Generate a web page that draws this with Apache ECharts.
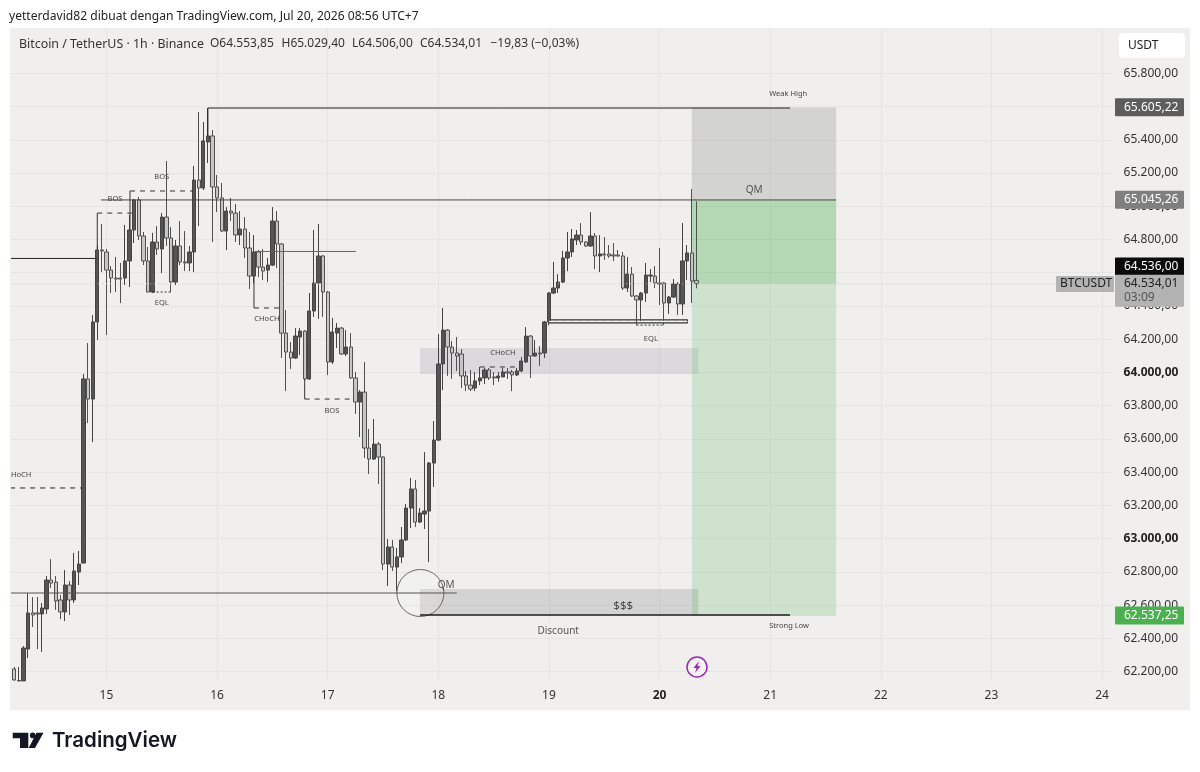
<!DOCTYPE html>
<html>
<head>
<meta charset="utf-8">
<title>BTCUSDT 1h</title>
<script src="https://cdn.jsdelivr.net/npm/echarts@6/dist/echarts.min.js"></script>
<style>
  html, body { margin: 0; background: #fff; }
  #panel { position: absolute; left: 10px; top: 28px; width: 1180px; height: 682px; background: #f0efee; }
  #chart { position: absolute; left: 0; top: 0; width: 1200px; height: 772px; }
</style>
</head>
<body>
<div id="panel"></div>
<div id="chart"></div>
<script>
// hourly bars: [open, close, low, high]
const candleRows = [
  [62216,62150,62144,62228],[62144,62146,62144,62228],[62144,62342,62144,62354],[62336,62553,62282,62673],
  [62553,62541,62468,62649],[62553,62547,62336,62649],[62547,62583,62318,62613],[62577,62751,62547,62775],
  [62751,62733,62703,62877],[62739,62625,62571,62775],[62631,62559,62516,62661],[62559,62721,62504,62811],
  [62721,62631,62541,62745],[62631,62805,62613,62914],[62799,62847,62721,62926],[62853,63961,62853,63991],
  [63961,63840,63696,64177],[63840,64304,63581,64346],[64304,64737,64195,64767],[64737,64731,64604,64893],
  [64725,64616,64225,64743],[64616,64568,64478,64640],[64568,64562,64484,64695],[64568,64562,64418,64659],
  [64568,64671,64526,64887],[64671,64857,64514,64947],[64857,65038,64779,65044],[65038,64821,64797,65056],
  [64821,64671,64646,64845],[64671,64484,64484,64755],[64484,64785,64478,64839],[64785,64743,64707,64881],
  [64743,64935,64598,64959],[64935,64809,64761,65272],[64809,64544,64484,64875],[64544,64761,64526,64797],
  [64761,64665,64646,64911],[64665,64659,64610,64851],[64659,64725,64610,64761],[64725,65158,64604,65242],
  [65158,65110,64881,65567],[65110,65393,65098,65507],[65387,65423,65260,65591],[65423,65116,64785,65459],
  [65116,65050,64965,65188],[65050,64851,64845,65140],[64851,64971,64737,64995],[64971,64959,64911,65050],
  [64959,64827,64785,65014],[64827,64863,64767,64971],[64863,64749,64689,64935],[64749,64580,64502,64845],
  [64580,64725,64538,64827],[64725,64634,64574,64737],[64634,64610,64556,64743],[64616,64646,64544,64689],
  [64646,64911,64640,64995],[64911,64773,64628,64971],[64773,64237,64087,64779],[64237,64123,63888,64376],
  [64123,64087,64021,64183],[64087,64219,64081,64267],[64213,64249,64105,64267],[64249,63961,63955,64255],
  [63961,64370,63955,64478],[64370,64538,64334,64857],[64538,64701,64322,64893],[64701,64484,64334,64707],
  [64484,64063,63985,64490],[64063,64243,64051,64328],[64237,64267,64147,64298],[64267,64111,64105,64273],
  [64111,64153,64099,64255],[64153,63967,63961,64237],[63967,63822,63750,64003],[63822,63882,63612,63894],
  [63882,63545,63485,64063],[63545,63479,63389,63660],[63479,63569,63473,63720],[63569,63491,63329,63581],
  [63491,62847,62811,63497],[62847,62950,62715,62998],[62950,62829,62805,62992],[62829,62890,62685,62944],
  [62890,62992,62853,63070],[62992,63184,62986,63208],[63184,63299,63064,63365],[63299,63100,63070,63353],
  [63100,63154,63094,63184],[63148,63166,63058,63521],[63166,63455,62859,63461],[63455,63593,63311,63708],
  [63593,64051,63587,64231],[64051,64255,63894,64388],[64255,64153,63979,64261],[64153,64117,63961,64189],
  [64117,64099,64009,64213],[64111,63979,63906,64141],[63979,63924,63888,64009],[63924,63900,63888,64015],
  [63906,63949,63888,64003],[63949,63967,63924,64033],[63967,64015,63930,64027],[64015,63967,63955,64027],
  [63973,63967,63924,64003],[63967,63979,63943,64003],[63973,64003,63973,64027],[64003,63997,63961,64027],
  [64003,63985,63888,64015],[63985,64009,63979,64027],[64009,64069,64003,64093],[64063,64219,64057,64273],
  [64219,64099,63967,64225],[64099,64117,64093,64195],[64117,64111,64039,64159],[64117,64304,64087,64310],
  [64304,64478,64285,64484],[64478,64508,64472,64665],[64508,64544,64478,64592],[64544,64689,64538,64731],
  [64689,64725,64610,64845],[64725,64803,64695,64863],[64797,64827,64767,64857],[64827,64785,64767,64899],
  [64785,64761,64755,64791],[64761,64821,64755,64965],[64821,64701,64622,64839],[64701,64713,64604,64827],
  [64713,64707,64677,64815],[64713,64701,64689,64767],[64707,64701,64671,64779],[64707,64701,64695,64737],
  [64701,64508,64496,64725],[64508,64592,64484,64695],[64592,64460,64454,64634],[64460,64436,64285,64466],
  [64436,64478,64304,64484],[64478,64586,64424,64659],[64580,64586,64544,64622],[64580,64538,64508,64640],
  [64538,64532,64406,64749],[64538,64418,64285,64544],[64418,64454,64352,64460],[64454,64532,64448,64562],
  [64532,64412,64346,64544],[64412,64671,64346,64899],[64671,64719,64556,64767],[64719,64550,64418,65104],
  [64553.85,64534.01,64506,65029.4]
];
const barSlots = Array.from({ length: 239 }, (_, i) => i);

const priceTicks = [62200,62400,62600,62800,63000,63200,63400,63600,63800,64000,64200,64400,64600,64800,65000,65200,65400,65600,65800];
const boldPrices = [63000, 64000];
const dayTicks = [20,44,68,92,116,140,164,188,212,236];
const dayLabels = ['15','16','17','18','19','20','21','22','23','24'];

// drawings, in [bar, price]
const weakHighLine = [[42,65423],[42,65591],[168.3,65591]];
const qmLine = [[18.8,65038],[178.3,65038]];
const strongLowLine = [[88,62541],[168.3,62541]];
const sweepLine = [[-0.9,62673],[96,62673]];
const oldHighLine = [[-0.9,64686],[17.9,64686]];
const midLine = [[52.2,64728],[74.1,64728]];
const lastPriceLine = [[-0.9,64534],[226,64534]];
const chochLeft = [[-0.9,63305],[14.7,63305]];
const bosOneStem = [[18,64737],[18,64959]];
const bosOne = [[18,64959],[25.5,64959]];
const bosTwoStem = [[25.1,64857],[25.1,65092]];
const bosTwo = [[25.1,65092],[38.8,65092]];
const eqlLeft = [[30,64484],[34,64484]];
const chochStem = [[52,64580],[52,64388]];
const chochMid = [[52,64388],[57.9,64388]];
const bosThreeStem = [[63,63961],[63,63840]];
const bosThree = [[63,63840],[73.9,63840]];
const chochRange = [[101,64033],[109.7,64033]];
const eqlRight = [[135,64285],[141,64285]];
const eqlBoxMid = [[116,64307],[146,64307]];

// [barFrom, barTo, priceTop, priceBottom]
const zones = [
  [88,148.4,64147,63991],
  [88,148.4,62697,62541],
  [147,178.3,65595,65038],
  [147,178.3,65038,64532],
  [147,178.3,64532,62535],
  [116,146,64316,64298]
];
const zoneFills = ['rgba(120,110,130,.17)','rgba(120,120,120,.23)','rgba(120,120,120,.24)','rgba(76,175,80,.37)','rgba(76,175,80,.2)','rgba(0,0,0,0)'];

const circleSpot = [[88.1,62673,5.1]];

const smallNoteText = ['Weak High','Strong Low','BOS','BOS','EQL','CHoCH','BOS','CHoCH','EQL','HoCH'];
const smallNotePos = [[167.9,65675],[168.1,62474],[32,65176],[21.85,65044],[32,64418],[54.8,64322],[68.9,63768],[106,64117],[138.1,64201],[1.5,63383]];
const bigNoteText = ['QM','QM','Discount'];
const bigNotePos = [[160.5,65098],[93.7,62721],[118,62444]];
const dollarNote = ['$$$'];
const dollarNotePos = [[132.1,62595]];

const tagValues = [65605.22,65045.26,64536,62537.25,64534.01];
const tagLabels = ['65.605,22','65.045,26','64.536,00','62.537,25','64.534,01'];
const tagFills = ['#5d5d5d','#7f7f7f','#0b0b0b','#4caf50','#b3b3b3'];
const tagInks = ['#fff','#fff','#fff','#fff','#222'];
const tagShift = [1.5,1,-17,0,7];
const countdown = '03:09';

const FONT = '"Noto Sans", sans-serif';
const formatPrice = v => v.toLocaleString('de-DE', { minimumFractionDigits: 2, maximumFractionDigits: 2 });

function drawing(points, color, width, type) {
  return {
    type: 'line', xAxisIndex: 1, yAxisIndex: 0, data: points, showSymbol: false, silent: true,
    clip: false, z: 6, animation: false,
    lineStyle: { color, width, type: type || 'solid', cap: 'butt' }
  };
}

function noteSeries(texts, positions, size, ink) {
  return {
    type: 'custom', xAxisIndex: 1, yAxisIndex: 0, data: positions, z: 7, silent: true, animation: false,
    renderItem(params, api) {
      const p = api.coord([api.value(0), api.value(1)]);
      return { type: 'text', style: {
        text: texts[params.dataIndex], x: p[0], y: p[1], fill: ink,
        font: size + 'px ' + FONT, textAlign: 'center', textVerticalAlign: 'middle'
      } };
    }
  };
}

const chart = echarts.init(document.getElementById('chart'), null, { renderer: 'canvas' });

chart.setOption({
  animation: false,
  backgroundColor: 'transparent',
  grid: { left: 12, right: 86.4, top: 28, bottom: 91 },
  xAxis: [
    { type: 'category', data: barSlots, show: false, boundaryGap: true },
    {
      type: 'value', min: -0.5, max: 238.5, position: 'bottom',
      axisLine: { show: false }, axisTick: { show: false, customValues: dayTicks },
      splitLine: { show: true, lineStyle: { color: '#e6e5e4', width: 1 } },
      axisLabel: {
        customValues: dayTicks, margin: 9, fontFamily: FONT, fontSize: 12, color: '#333',
        formatter: v => {
          const day = dayLabels[dayTicks.indexOf(v)];
          return day === '20' ? '{b|' + day + '}' : day;
        },
        rich: { b: { fontWeight: 'bold', fontFamily: FONT, fontSize: 12, color: '#222' } }
      }
    }
  ],
  yAxis: {
    type: 'value', position: 'right', min: 62143.5, max: 66072.6, scale: true,
    axisLine: { show: false }, axisTick: { show: false, customValues: priceTicks },
    splitLine: { show: true, lineStyle: { color: '#e6e5e4', width: 1 } },
    axisLabel: {
      customValues: priceTicks, margin: 10, fontFamily: FONT, fontSize: 12, color: '#333',
      formatter: v => boldPrices.includes(v) ? '{b|' + formatPrice(v) + '}' : formatPrice(v),
      rich: { b: { fontWeight: 'bold', fontFamily: FONT, fontSize: 12, color: '#222' } }
    }
  },
  series: [
    {
      type: 'custom', xAxisIndex: 1, yAxisIndex: 0, data: zones, z: 1, silent: true, animation: false,
      renderItem(params, api) {
        const a = api.coord([api.value(0), api.value(2)]);
        const b = api.coord([api.value(1), api.value(3)]);
        const outlined = params.dataIndex === 5;
        return { type: 'rect', shape: { x: a[0], y: a[1], width: b[0] - a[0], height: b[1] - a[1] },
          style: { fill: zoneFills[params.dataIndex], stroke: outlined ? '#333' : null, lineWidth: outlined ? 1.2 : 0 } };
      }
    },
    {
      type: 'candlestick', xAxisIndex: 0, yAxisIndex: 0, data: candleRows, barWidth: 3.8, z: 4, clip: true,
      silent: true, animation: false, progressive: 0,
      itemStyle: { color: '#555', color0: '#c6c6c6', borderColor: '#444', borderColor0: '#505050', borderWidth: 1 }
    },
    drawing(weakHighLine, '#222', 1),
    drawing(qmLine, '#444', 1),
    drawing(strongLowLine, '#1c1c1c', 1.5),
    drawing(sweepLine, '#555', 1.2),
    drawing(oldHighLine, '#222', 1),
    drawing(midLine, '#666', 1),
    drawing(lastPriceLine, '#c4c4c4', 1, [1, 3]),
    drawing(chochLeft, '#222', 1, [5, 5]),
    drawing(bosOneStem, '#333', 1),
    drawing(bosOne, '#333', 1, [5, 5]),
    drawing(bosTwoStem, '#333', 1),
    drawing(bosTwo, '#333', 1, [5, 5]),
    drawing(eqlLeft, '#333', 1, [2, 2]),
    drawing(chochStem, '#333', 1),
    drawing(chochMid, '#333', 1, [5, 5]),
    drawing(bosThreeStem, '#333', 1),
    drawing(bosThree, '#333', 1, [5, 5]),
    drawing(chochRange, '#333', 1, [5, 5]),
    drawing(eqlRight, '#333', 1, [2, 2]),
    drawing(eqlBoxMid, '#fff', 1, [5, 3]),
    {
      type: 'custom', xAxisIndex: 1, yAxisIndex: 0, data: circleSpot, z: 5, silent: true, animation: false,
      renderItem(params, api) {
        const c = api.coord([api.value(0), api.value(1)]);
        const edge = api.coord([api.value(0) + api.value(2), api.value(1)]);
        return { type: 'circle', shape: { cx: c[0], cy: c[1], r: edge[0] - c[0] },
          style: { fill: 'rgba(255,255,255,.12)', stroke: '#666', lineWidth: 1 } };
      }
    },
    noteSeries(smallNoteText, smallNotePos, 7.5, '#444'),
    noteSeries(bigNoteText, bigNotePos, 10, '#555'),
    noteSeries(dollarNote, dollarNotePos, 11.5, '#444'),
    {
      type: 'custom', xAxisIndex: 1, yAxisIndex: 0, z: 20, silent: true, animation: false,
      data: tagValues.map(v => [0, v]),
      renderItem(params, api) {
        const i = params.dataIndex;
        const y = api.coord([0, api.value(1)])[1] + tagShift[i];
        const tall = i === 4;
        const h = tall ? 32 : 18;
        const kids = [
          { type: 'rect', shape: { x: 1115, y: y - h / 2, width: 69, height: h, r: 1 }, style: { fill: tagFills[i] } },
          { type: 'text', style: { text: tagLabels[i], x: 1124, y: tall ? y - 7 : y, fill: tagInks[i], font: '12px ' + FONT, textAlign: 'left', textVerticalAlign: 'middle' } }
        ];
        if (tall) kids.push({ type: 'text', style: { text: countdown, x: 1124, y: y + 7, fill: '#555', font: '12px ' + FONT, textAlign: 'left', textVerticalAlign: 'middle' } });
        return { type: 'group', children: kids };
      }
    }
  ],
  graphic: [
    { type: 'text', z: 30, style: { text: 'yetterdavid82 dibuat dengan TradingView.com, Jul 20, 2026 08:56 UTC+7', x: 9, y: 17, fill: '#222', font: '12.1px ' + FONT, textVerticalAlign: 'middle' } },
    { type: 'text', z: 30, style: { text: 'Bitcoin / TetherUS · 1h · Binance', x: 19, y: 44, fill: '#333', font: '12.4px ' + FONT, textVerticalAlign: 'middle' } },
    { type: 'text', z: 30, style: { text: 'O64.553,85', x: 210, y: 44, fill: '#333', font: '12px ' + FONT, textVerticalAlign: 'middle' } },
    { type: 'text', z: 30, style: { text: 'H65.029,40', x: 281.5, y: 44, fill: '#333', font: '12px ' + FONT, textVerticalAlign: 'middle' } },
    { type: 'text', z: 30, style: { text: 'L64.506,00', x: 352, y: 44, fill: '#333', font: '12px ' + FONT, textVerticalAlign: 'middle' } },
    { type: 'text', z: 30, style: { text: 'C64.534,01', x: 420, y: 44, fill: '#333', font: '12px ' + FONT, textVerticalAlign: 'middle' } },
    { type: 'text', z: 30, style: { text: '−19,83 (−0,03%)', x: 490.5, y: 44, fill: '#333', font: '12px ' + FONT, textVerticalAlign: 'middle' } },
    { type: 'rect', z: 30, shape: { x: 1119, y: 33, width: 66, height: 25, r: 4 }, style: { fill: '#fff' } },
    { type: 'text', z: 31, style: { text: 'USDT', x: 1128, y: 45.5, fill: '#222', font: '12px ' + FONT, textVerticalAlign: 'middle' } },
    { type: 'rect', z: 30, shape: { x: 1056, y: 276, width: 58, height: 16, r: 1 }, style: { fill: '#b3b3b3' } },
    { type: 'text', z: 31, style: { text: 'BTCUSDT', x: 1060, y: 284, fill: '#222', font: '12px ' + FONT, textVerticalAlign: 'middle' } },
    // lightning badge
    { type: 'circle', z: 30, shape: { cx: 697, cy: 667, r: 10 }, style: { fill: '#f5f3f6', stroke: '#9c27b0', lineWidth: 1.5 } },
    { type: 'polygon', z: 31, shape: { points: [[699,661],[693.5,668],[696.5,668],[695,673],[700.5,666],[697.5,666]] }, style: { fill: '#9c27b0' } },
    // logo
    { type: 'polygon', z: 30, shape: { points: [[12.7,732.7],[28.3,732.7],[28.3,748],[20,748],[20,738.3],[12.7,738.3]] }, style: { fill: '#131722' } },
    { type: 'circle', z: 30, shape: { cx: 32.7, cy: 735.4, r: 2.8 }, style: { fill: '#131722' } },
    { type: 'polygon', z: 30, shape: { points: [[36.5,732.7],[43.5,732.7],[35,748],[28.7,748]] }, style: { fill: '#131722' } },
    { type: 'text', z: 30, style: { text: 'TradingView', x: 52, y: 741, fill: '#131722', font: '600 20.5px Inter, ' + FONT, textVerticalAlign: 'middle' } }
  ]
});
</script>
</body>
</html>
